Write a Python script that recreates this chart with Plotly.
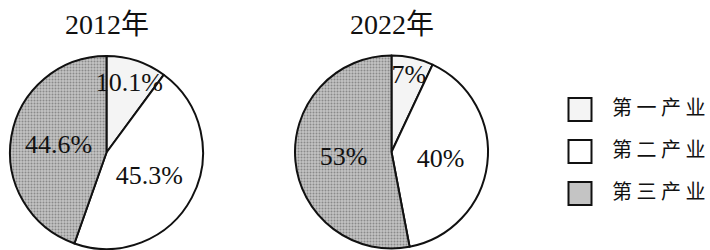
import plotly.graph_objects as go

categories = ["第一产业", "第二产业", "第三产业"]
legend_labels = ["第 一 产 业", "第 二 产 业", "第 三 产 业"]
years = ["2012年", "2022年"]
values_2012 = [10.1, 45.3, 44.6]
values_2022 = [7, 40, 53]

W, H = 710, 250
slice_colors = ["#f4f4f4", "#ffffff", "#c4c4c4"]
serif = "Liberation Serif, Noto Sans CJK SC, serif"

# pie centres / radius in pixels (layout)
pies = [
    dict(year=years[0], values=values_2012, cx=106.5, cy=152.5, r=96.5),
    dict(year=years[1], values=values_2022, cx=391.5, cy=152.0, r=96.5),
]

fig = go.Figure()
annotations = []
for p in pies:
    dx = [(p["cx"] - p["r"]) / W, (p["cx"] + p["r"]) / W]
    dy = [(H - p["cy"] - p["r"]) / H, (H - p["cy"] + p["r"]) / H]
    # filled slices
    fig.add_trace(go.Pie(
        labels=categories,
        values=p["values"],
        sort=False,
        direction="clockwise",
        rotation=0,
        domain=dict(x=dx, y=dy),
        marker=dict(
            colors=slice_colors,
            line=dict(color="#111111", width=2),
            pattern=dict(shape=["", "", "."],
                         fgcolor=["#000000", "#000000", "#8a8a8a"],
                         bgcolor=slice_colors,
                         size=3, solidity=0.35),
        ),
        textinfo="none",
        showlegend=False,
        hoverinfo="skip",
    ))
    # transparent overlay carrying the percentage labels (drawn above all slices)
    fig.add_trace(go.Pie(
        labels=categories,
        values=p["values"],
        sort=False,
        direction="clockwise",
        rotation=0,
        domain=dict(x=dx, y=dy),
        marker=dict(colors=["rgba(0,0,0,0)"] * 3, line=dict(width=0)),
        texttemplate="%{value}%",
        textposition="inside",
        insidetextorientation="horizontal",
        textfont=dict(family=serif, size=26, color="#111111"),
        showlegend=False,
        hoverinfo="skip",
    ))
    annotations.append(dict(
        text=p["year"], x=p["cx"] / W, y=1 - 25 / H, xref="paper", yref="paper",
        xanchor="center", yanchor="middle", showarrow=False,
        font=dict(family=serif, size=28, color="#111111"),
    ))

# legend drawn as markers + text on a hidden axis
fig.add_trace(go.Scatter(
    x=[0] * len(categories), y=categories, mode="markers",
    marker=dict(symbol="square", size=23, color=slice_colors,
                line=dict(color="#111111", width=2)),
    showlegend=False, hoverinfo="skip", cliponaxis=False,
))
fig.add_trace(go.Scatter(
    x=[1] * len(categories), y=categories, mode="text", text=legend_labels,
    textposition="middle right",
    textfont=dict(family="Noto Sans CJK SC", size=20, color="#111111"),
    showlegend=False, hoverinfo="skip", cliponaxis=False,
))

fig.update_layout(
    width=W, height=H,
    margin=dict(l=0, r=0, t=0, b=0),
    paper_bgcolor="white", plot_bgcolor="rgba(0,0,0,0)",
    uniformtext=dict(minsize=26, mode="show"),
    annotations=annotations,
    xaxis=dict(domain=[580 / W, 612 / W], range=[0, 1], visible=False),
    yaxis=dict(domain=[0, 1], type="category", range=[3.345, -2.607], visible=False),
)

fig.write_html("out.html", config={"displayModeBar": False},
               post_script="document.body.style.margin='0';")
